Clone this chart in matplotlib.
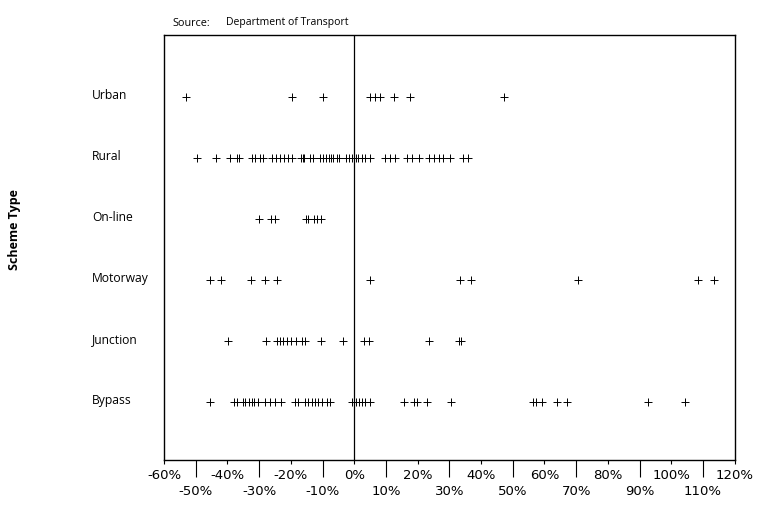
import matplotlib
matplotlib.use('Agg')
import matplotlib.pyplot as plt
from matplotlib.ticker import FixedLocator, FixedFormatter
import matplotlib.transforms as mtransforms

# ---- data (percent change) ----
categories = ["Urban", "Rural", "On-line", "Motorway", "Junction", "Bypass"]

urban = [-53.1, -19.7, -9.8, 5.1, 6.4, 8.1, 12.4, 17.7, 47.1]
rural = [-49.7, -43.6, -39.2, -37.1, -36.2, -32.3, -31.3, -29.7, -28.9, -26.0,
         -24.7, -23.4, -22.1, -21.0, -19.7, -16.9, -16.3, -16.0, -13.9, -12.9,
         -10.8, -9.7, -9.0, -8.1, -7.4, -6.6, -5.5, -4.7, -2.6, -1.5, -0.8,
         0.6, 1.3, 2.4, 3.4, 5.0, 9.7, 11.3, 12.9, 16.6, 18.1, 20.3, 23.7,
         25.2, 26.6, 28.1, 30.2, 34.4, 36.0]
online = [-30.1, -26.3, -25.1, -15.3, -14.5, -12.7, -11.7, -10.5]
motorway = [-45.5, -41.9, -32.6, -28.0, -24.3, 4.9, 33.3, 36.8, 70.7, 108.3, 113.4]
junction = [-39.8, -27.7, -24.3, -23.5, -22.4, -21.1, -19.9, -18.5, -16.6, -15.4,
            -10.5, -3.7, 3.2, 4.7, 23.7, 33.1, 33.8]
bypass = [-45.5, -37.9, -37.1, -35.0, -34.5, -33.2, -32.4, -31.5, -30.3, -28.2,
          -26.6, -25.0, -23.1, -18.7, -17.7, -15.6, -14.7, -13.4, -12.4, -11.4,
          -10.3, -8.7, -7.7, -0.8, 0.4, 1.5, 2.3, 3.4, 5.0, 15.6, 18.8, 19.8,
          23.0, 30.5, 56.4, 57.4, 59.2, 63.9, 67.1, 92.8, 104.4]

series = [urban, rural, online, motorway, junction, bypass]

tick_values = list(range(-60, 121, 10))
tick_labels = [f"{v}%" for v in tick_values]

source_label = "Source:"
source_text = "Department of Transport"
y_title = "Scheme Type"

# ---- figure ----
W, H = 762, 522
fig = plt.figure(figsize=(W / 100, H / 100), dpi=100)
ax = fig.add_axes([164 / W, 1 - 460 / H, (734.7 - 164) / W, 425 / H])

for i, vals in enumerate(series):
    ax.plot(vals, [i] * len(vals), linestyle='none', marker='+',
            markersize=5.5, markeredgewidth=0.7, color='black')

ax.set_xlim(-60, 120)
ax.set_ylim(5.955, -1.008)
ax.axvline(0, color='black', lw=0.9, zorder=1)

for sp in ax.spines.values():
    sp.set_color('black')
    sp.set_linewidth(1.0)

major_vals = [v for v in tick_values if v % 20 == 0]
major_labs = [l for v, l in zip(tick_values, tick_labels) if v % 20 == 0]
minor_vals = [v for v in tick_values if v % 20 != 0]
minor_labs = [l for v, l in zip(tick_values, tick_labels) if v % 20 != 0]

ax.xaxis.set_major_locator(FixedLocator(major_vals))
ax.xaxis.set_major_formatter(FixedFormatter(major_labs))
ax.xaxis.set_minor_locator(FixedLocator(minor_vals))
ax.xaxis.set_minor_formatter(FixedFormatter(minor_labs))
ax.tick_params(axis='x', which='major', direction='out', length=3, width=0.8,
               pad=3.5, labelsize=9.5, colors='black')
ax.tick_params(axis='x', which='minor', direction='out', length=12.2, width=0.8,
               pad=5.5, labelsize=9.5, colors='black')

ax.set_yticks(range(len(categories)))
ax.set_yticklabels(categories, fontfamily='Open Sans', fontsize=8.7)
ax.tick_params(axis='y', length=0, pad=51.8)
offset = mtransforms.ScaledTranslation(0, 3 / 100, fig.dpi_scale_trans)
for lbl in ax.get_yticklabels():
    lbl.set_horizontalalignment('left')
    lbl.set_transform(lbl.get_transform() + offset)

fig.text(15 / W, 1 - 230 / H, y_title, rotation=90, ha='center', va='center',
         fontfamily='Open Sans', fontweight='bold', fontsize=9)
fig.text(172 / W, 1 - 23 / H, source_label, ha='left', va='center',
         fontfamily='Open Sans', fontsize=7.8)
fig.text(226 / W, 1 - 23 / H, source_text, ha='left', va='center',
         fontfamily='Open Sans', fontsize=7.5)

fig.savefig('out.png', dpi=100)
